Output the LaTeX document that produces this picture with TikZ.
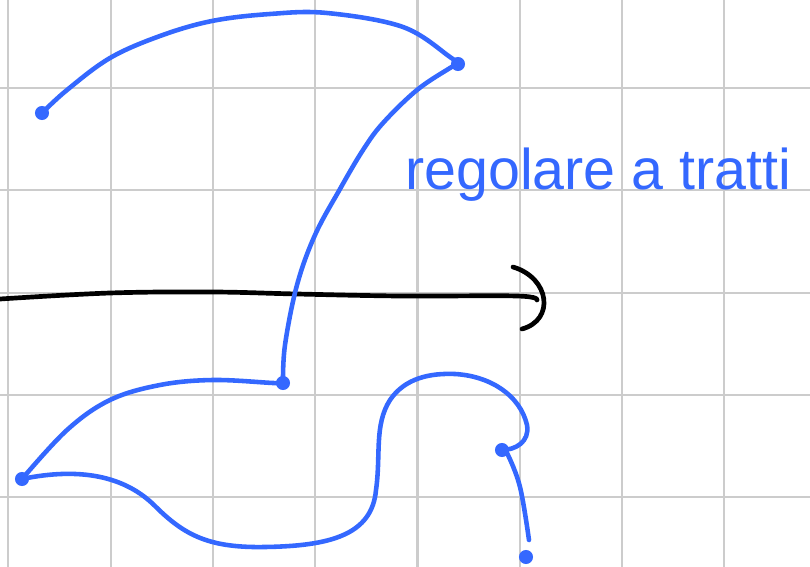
\documentclass[tikz,border=0pt]{standalone}
\usepackage{fontspec}
\setmainfont{Liberation Sans}
\definecolor{ink}{RGB}{52,104,255}
\definecolor{gridc}{RGB}{204,204,204}
\tikzset{
  gridline/.style={draw=gridc, line width=1.8pt},
  bluestroke/.style={draw=ink, line width=3.9pt, line cap=round, line join=round},
  blackstroke/.style={draw=black, line width=4pt, line cap=round, line join=round},
  blob/.style={fill=ink, circle, inner sep=0pt, minimum size=12pt},
  handtext/.style={text=ink, font=\fontsize{49}{50}\selectfont, inner sep=0pt, anchor=base west}
}
\begin{document}
\begin{tikzpicture}[x=0.03cm, y=-0.03cm]
\useasboundingbox (0,0) rectangle (810,567);
\fill[white] (0,0) rectangle (810,567);
% grid
\foreach \i in {0,...,7} {
  \draw[gridline] ({8.3+102.3*\i},0) -- ({8.3+102.3*\i},567);
}
\foreach \j in {0,...,4} {
  \draw[gridline] (0,{88+102.3*\j}) -- (810,{88+102.3*\j});
}
% key points
\coordinate (A) at (42,113);
\coordinate (B) at (458,64);
\coordinate (C) at (283,383);
\coordinate (D) at (22,479);
\coordinate (E) at (502,450);
\coordinate (F) at (526,557);
% black axis with arc
\draw[blackstroke] plot[smooth, tension=0.6] coordinates {(0,299) (110,293) (213,292) (297,294) (400,296) (517,296) (537,300)};
\draw[blackstroke] (513,267) .. controls (550,278) and (555,320) .. (522,329);
% top arc A -> B
\draw[bluestroke] plot[smooth, tension=0.6] coordinates {(A) (67,90) (110,58) (160,36) (212,21) (270,14) (327,13) (403,27) (450,57) (B)};
% B -> C
\draw[bluestroke] plot[smooth, tension=0.6] coordinates {(B) (450,68) (417,90) (383,123) (363,150) (340,189) (315,235) (297,285) (285,345) (C)};
% C -> D
\draw[bluestroke] plot[smooth, tension=0.6] coordinates {(C) (273,383) (213,380) (160,385) (110,400) (67,430) (D)};
% D -> E
\draw[bluestroke] (D) .. controls (80,467) and (125,476) .. (155,506)
  .. controls (185,536) and (210,548) .. (265,547)
  .. controls (330,546) and (372,535) .. (376,490)
  .. controls (381,455) and (374,425) .. (390,400)
  .. controls (405,378) and (430,373) .. (455,374)
  .. controls (490,376) and (520,395) .. (527,425)
  .. controls (530,442) and (515,450) .. (E);
% E -> F
\draw[bluestroke] plot[smooth, tension=0.6] coordinates {(E) (507,453) (520,487) (529,540)};
% blobs
\node[blob] (a) at (A) {};
\node[blob] (b) at (B) {};
\node[blob] (c) at (C) {};
\node[blob] (d) at (D) {};
\node[blob] (e) at (E) {};
\node[blob] (f) at (F) {};
% text
\node[handtext] (t) at (405,190) {regolare a tratti};
\end{tikzpicture}
\end{document}
